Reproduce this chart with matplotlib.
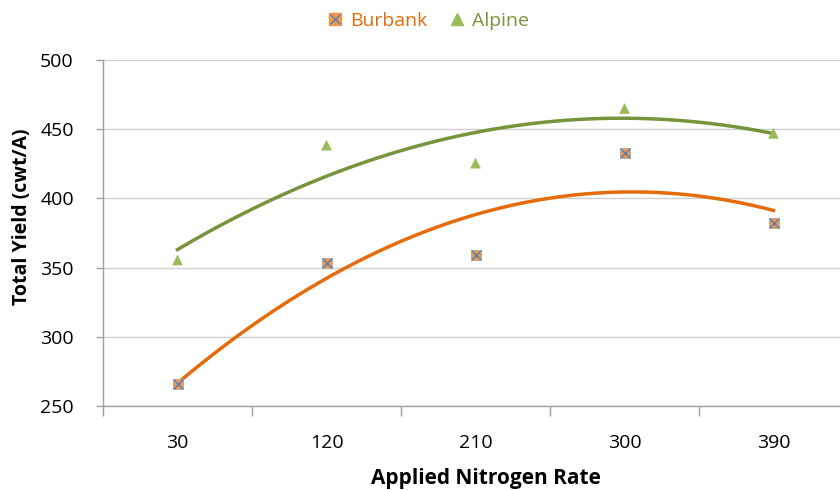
import numpy as np
import matplotlib
matplotlib.use("Agg")
import matplotlib.pyplot as plt
from matplotlib.lines import Line2D
from matplotlib.legend_handler import HandlerTuple

categories = ["30", "120", "210", "300", "390"]
burbank = [266, 353, 359, 433, 382]
alpine = [355.5, 438.5, 425.5, 465, 447]

plt.rcParams['font.family'] = ['Open Sans', 'DejaVu Sans']

fig = plt.figure(figsize=(8.4, 4.9), dpi=100)
W, H = 840, 490
left, right, top, bottom = 103, 848, 60, 406
ax = fig.add_axes([left / W, 1 - bottom / H, (right - left) / W, (bottom - top) / H])

x = np.arange(1, len(categories) + 1)
xs = np.linspace(1, len(categories), 200)

orange_fill = "#F79646"
orange_line = "#E46C0A"
green_fill = "#9BBB59"
green_line = "#77933C"
cross = "#4F81BD"

# trendlines (poly order 2)
pb = np.polyfit(x, burbank, 2)
pa = np.polyfit(x, alpine, 2)
ax.plot(xs, np.polyval(pa, xs), color=green_line, lw=2.5, zorder=3)
ax.plot(xs, np.polyval(pb, xs), color=orange_line, lw=2.5, zorder=3)

ax.scatter(x, burbank, marker="s", s=60, color=orange_fill, edgecolors="#A6A6A6", linewidths=0.6, zorder=4)
ax.scatter(x, burbank, marker="x", s=45, color=cross, linewidths=1.0, zorder=5)
ax.scatter(x, alpine, marker="^", s=60, color=green_fill, edgecolors="none", zorder=4)

ax.set_xlim(0.5, len(categories) + 0.5)
ax.set_ylim(250, 500)
ax.set_yticks(np.arange(250, 501, 50))
ax.set_xticks(x)
ax.set_xticklabels(categories)
ax.set_xticks(np.arange(0.5, len(categories) + 1, 1), minor=True)
ax.tick_params(axis="x", which="major", length=0, pad=20, labelsize=14, colors="#000000")
ax.tick_params(axis="x", which="minor", length=7, width=1, color="#A0A0A0")
ax.tick_params(axis="y", length=5, width=1, color="#A0A0A0", labelsize=14, pad=16)
ax.grid(axis="y", color="#D0D0D0", lw=1, zorder=0)
ax.set_axisbelow(True)
for s in ["top", "right"]:
    ax.spines[s].set_visible(False)
for s in ["left", "bottom"]:
    ax.spines[s].set_color("#A0A0A0")
    ax.spines[s].set_linewidth(1)

ax.set_xlabel("Applied Nitrogen Rate", fontsize=15, fontweight="bold", labelpad=12)
ax.xaxis.label.set_x(0.514)
ax.set_ylabel("Total Yield (cwt/A)", fontsize=14, fontweight="bold", labelpad=6)
ax.yaxis.label.set_y(0.546)

# legend
h1 = (Line2D([], [], marker="s", ls="", color=orange_fill, markersize=8),
      Line2D([], [], marker="x", ls="", color=cross, markersize=7))
h2 = Line2D([], [], marker="^", ls="", color=green_fill, markersize=8)
leg = fig.legend([h1, h2], ["Burbank", "Alpine"], loc="center", bbox_to_anchor=(427 / W, 1 - 21 / H),
                 ncol=2, frameon=False, fontsize=14, handletextpad=0.3, columnspacing=1.0,
                 handlelength=1.0, handler_map={tuple: HandlerTuple(ndivide=1, pad=0)})
for t, c in zip(leg.get_texts(), [orange_line, green_line]):
    t.set_color(c)

fig.savefig("out.png", dpi=100)
